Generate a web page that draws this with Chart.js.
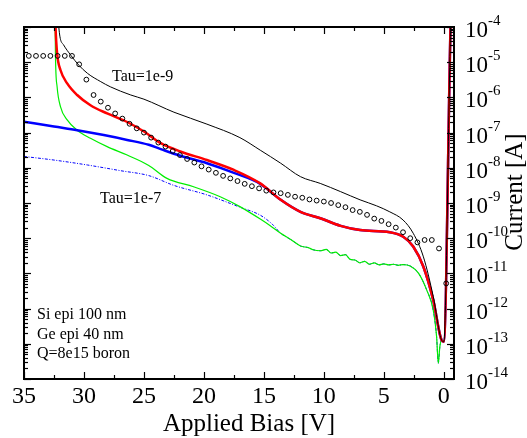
<!DOCTYPE html>
<html>
<head>
<meta charset="utf-8">
<title>Current vs applied bias</title>
<script src="https://cdn.jsdelivr.net/npm/chart.js@4/dist/chart.umd.min.js"></script>
<style>
  html, body { margin: 0; padding: 0; background: #fff; }
  #wrap { width: 527px; height: 438px; }
</style>
</head>
<body>
<div id="wrap"><canvas id="ivChart" width="527" height="438"></canvas></div>
<script>
// axis ticks
const xTickLabels = [35, 30, 25, 20, 15, 10, 5, 0];
const xMinorTicks = [32.5, 27.5, 22.5, 17.5, 12.5, 7.5, 2.5];
const yExponents = [-4, -5, -6, -7, -8, -9, -10, -11, -12, -13, -14];

// measured points (open circles)
const measV = [34.6, 34.0, 33.4, 32.8, 32.2, 31.6, 31.0, 30.4, 29.8, 29.2,
  28.6, 28.0, 27.4, 26.8, 26.2, 25.6, 25.0, 24.4, 23.8, 23.2,
  22.6, 22.0, 21.4, 20.8, 20.2, 19.6, 19.0, 18.4, 17.8, 17.2,
  16.6, 16.0, 15.4, 14.8, 14.2, 13.6, 13.0, 12.4, 11.8, 11.2,
  10.6, 10.0, 9.4, 8.8, 8.2, 7.6, 7.0, 6.4, 5.8, 5.2,
  4.6, 4.0, 3.4, 2.8, 2.2, 1.6, 1.0, 0.4, -0.2];
const measI = [1.51e-5, 1.51e-5, 1.51e-5, 1.51e-5, 1.51e-5, 1.51e-5, 1.51e-5, 8.7e-6, 3.2e-6, 1.17e-6,
  7.6e-7, 5.1e-7, 3.5e-7, 2.5e-7, 1.78e-7, 1.32e-7, 1.0e-7, 7.2e-8, 5.2e-8, 4.0e-8,
  3.0e-8, 2.3e-8, 1.78e-8, 1.41e-8, 1.1e-8, 8.9e-9, 7.2e-9, 5.9e-9, 5.0e-9, 4.2e-9,
  3.5e-9, 3.0e-9, 2.6e-9, 2.24e-9, 2.0e-9, 1.9e-9, 1.7e-9, 1.51e-9, 1.41e-9, 1.26e-9,
  1.17e-9, 1.1e-9, 1.0e-9, 8.7e-10, 7.6e-10, 6.3e-10, 5.6e-10, 4.6e-10, 3.6e-10, 3.1e-10,
  2.5e-10, 2.0e-10, 1.48e-10, 1.0e-10, 7.6e-11, 8.9e-11, 8.9e-11, 5.1e-11, 5.2e-12];

// Tau=1e-9 simulation (thin black)
const blackV = [32.2, 32.1, 31.7, 31.1, 30.44, 29.7, 28.6, 27.8, 26.1, 25.0,
  22.5, 19.75, 17.0, 15.3, 13.6, 11.95, 10.3, 8.6, 6.98, 5.6,
  4.5, 3.4, 2.55, 1.7, 0.88, 0.18, 0.0, -0.56, -0.6];
const blackI = [1e-3, 1e-4, 3.1e-5, 1.58e-5, 8.3e-6, 4.8e-6, 2.8e-6, 2.0e-6, 1.17e-6, 8.9e-7,
  3.8e-7, 1.74e-7, 7.2e-8, 3.16e-8, 1.35e-8, 5.6e-9, 3.6e-9, 2.1e-9, 1.23e-9, 8.3e-10,
  5.6e-10, 3.3e-10, 1.38e-10, 2.95e-11, 2.2e-12, 1.26e-13, 1.15e-13, 1e-4, 3.2e-4];

// red and blue share the low-bias part
const redV = [32.45, 32.37, 32.24, 31.96, 31.4, 30.57, 29.46, 28.07, 26.4, 25.0,
  23.6, 21.97, 19.75, 17.5, 15.3];
const redI = [1e-3, 1e-4, 1.78e-5, 6.0e-6, 2.5e-6, 1.17e-6, 6.0e-7, 3.5e-7, 2.0e-7, 1.07e-7,
  5.0e-8, 2.9e-8, 1.66e-8, 8.7e-9, 3.6e-9];
const blueV = [35, 32.5, 30.57, 28.35, 26.4, 24.6, 23.6, 21.97, 19.75, 17.5, 15.3];
const blueI = [2.04e-7, 1.48e-7, 1.17e-7, 8.5e-8, 6.2e-8, 4.5e-8, 3.4e-8, 2.2e-8, 1.35e-8, 7.2e-9, 3.5e-9];
const tailRV = [13.6, 11.95, 10.3, 8.6, 6.98, 4.5, 3.38, 2.55, 1.7, 0.88, 0.18, 0.0, -0.56, -0.6];
const tailRI = [1.23e-9, 5.6e-10, 3.7e-10, 2.24e-10, 1.7e-10, 1.48e-10, 1.1e-10, 5.8e-11, 1.55e-11, 1.74e-12,
  1.26e-13, 1.15e-13, 1e-4, 3.2e-4];

// green and Tau=1e-7 (dash-dot) share the noisy low-bias part
const greenV = [32.45, 32.4, 32.38, 32.24, 31.96, 31.4, 30.57, 29.46, 28.07, 26.4,
  24.6, 23.08, 20.86, 18.64, 17.0, 15.3, 14.5];
const greenI = [1e-3, 1e-4, 1.78e-5, 2.0e-6, 5.5e-7, 2.3e-7, 1.17e-7, 6.9e-8, 4.0e-8, 2.3e-8,
  1.17e-8, 5.0e-9, 2.9e-9, 1.51e-9, 7.9e-10, 3.5e-10, 2.3e-10];
const dashV = [35, 32.5, 29.7, 26.97, 24.6, 22.5, 19.75, 17.0, 15.3, 14.3];
const dashI = [2.1e-8, 1.66e-8, 1.2e-8, 8.3e-9, 6.0e-9, 3.16e-9, 1.7e-9, 7.6e-10, 4.5e-10, 2.5e-10];
const tailGV = [13.6, 12.7, 11.95, 11.3, 10.9, 10.3, 9.8, 9.4, 9.0, 8.6,
  8.2, 7.8, 7.4, 7.0, 6.6, 6.2, 5.8, 5.4, 5.0, 4.6,
  4.2, 3.8, 3.4, 2.8, 2.1, 1.43, 0.88, 0.6, 0.46, 0.33,
  0.18, 0.0, -0.56, -0.6];
const tailGI = [1.38e-10, 8.9e-11, 6.0e-11, 5.4e-11, 4.7e-11, 4.4e-11, 4.8e-11, 3.8e-11, 4.0e-11, 3.2e-11,
  3.4e-11, 2.5e-11, 2.4e-11, 2.0e-11, 2.2e-11, 1.82e-11, 2.0e-11, 1.74e-11, 1.86e-11, 1.74e-11,
  1.82e-11, 1.7e-11, 1.78e-11, 1.62e-11, 1.0e-11, 3.4e-12, 9.1e-13, 1.58e-13, 2.8e-14, 8.3e-14,
  1.26e-13, 1.15e-13, 1e-4, 3.2e-4];

const pts = (vs, is) => vs.map((v, i) => ({ x: v, y: is[i] }));
const FONT = "'Liberation Serif', 'Times New Roman', serif";

// frame, inward ticks, tick labels, titles and notes
const axesPlugin = {
  id: "axesPlugin",
  afterDraw(chart) {
    const { ctx, chartArea: a } = chart;
    const xs = chart.scales.x, ys = chart.scales.y;
    ctx.save();
    ctx.strokeStyle = "#000";
    ctx.fillStyle = "#000";
    const seg = (x1, y1, x2, y2) => { ctx.beginPath(); ctx.moveTo(x1, y1); ctx.lineTo(x2, y2); ctx.stroke(); };

    ctx.lineWidth = 1.2;
    xTickLabels.forEach((v) => {
      const px = Math.round(xs.getPixelForValue(v)) + 0.5;
      seg(px, a.bottom, px, a.bottom - 7);
      seg(px, a.top, px, a.top + 7);
    });
    xMinorTicks.forEach((v) => {
      const px = Math.round(xs.getPixelForValue(v)) + 0.5;
      seg(px, a.bottom, px, a.bottom - 4);
      seg(px, a.top, px, a.top + 4);
    });
    yExponents.forEach((e) => {
      for (let m = 1; m <= 9; m++) {
        const val = m * Math.pow(10, e);
        if (val > 1.0001e-4) break;
        const py = Math.round(ys.getPixelForValue(val)) + 0.5;
        const len = m === 1 ? 7 : 4;
        seg(a.left, py, a.left + len, py);
        seg(a.right, py, a.right - len, py);
      }
    });

    ctx.lineWidth = 2;
    ctx.strokeRect(a.left, a.top, a.right - a.left, a.bottom - a.top);

    // x tick labels
    ctx.font = "24px " + FONT;
    ctx.textAlign = "center";
    ctx.textBaseline = "middle";
    xTickLabels.forEach((v) => {
      ctx.fillText(String(v), xs.getPixelForValue(v), a.bottom + 18);
    });

    // y tick labels as 10 with superscript exponent
    ctx.textAlign = "left";
    ctx.textBaseline = "alphabetic";
    yExponents.forEach((e) => {
      const py = ys.getPixelForValue(Math.pow(10, e));
      const x0 = a.right + 11;
      ctx.font = "23px " + FONT;
      ctx.fillText("10", x0, py + 10);
      const w = ctx.measureText("10").width;
      ctx.font = "15px " + FONT;
      ctx.fillText(String(e), x0 + w, py - 2);
    });

    // axis titles
    ctx.font = "25px " + FONT;
    ctx.textAlign = "center";
    ctx.fillText("Applied Bias [V]", 249, 431);
    ctx.save();
    ctx.translate(515, 192);
    ctx.rotate(-Math.PI / 2);
    ctx.textBaseline = "middle";
    ctx.fillText("Current [A]", 0, 0);
    ctx.restore();

    // notes
    ctx.font = "16px " + FONT;
    ctx.textAlign = "left";
    ctx.fillText("Tau=1e-9", 112, 81);
    ctx.fillText("Tau=1e-7", 100, 203);
    ctx.fillText("Si epi 100 nm", 37, 319);
    ctx.fillText("Ge epi 40 nm", 37, 339);
    ctx.fillText("Q=8e15 boron", 37, 358);
    ctx.restore();
  },
};

const curve = (data, color, width, dash) => ({
  data,
  borderColor: color,
  borderWidth: width,
  borderDash: dash || [],
  pointRadius: 0,
  fill: false,
  cubicInterpolationMode: "monotone",
});

new Chart(document.getElementById("ivChart"), {
  type: "line",
  data: {
    datasets: [
      {
        data: pts(measV, measI),
        showLine: false,
        pointStyle: "circle",
        pointRadius: 2.4,
        pointBorderWidth: 1,
        pointBorderColor: "#000",
        pointBackgroundColor: "rgba(0,0,0,0)",
      },
      curve(pts(blackV, blackI), "#000000", 1),
      curve(pts(redV.concat(tailRV), redI.concat(tailRI)), "#ff0000", 2.5),
      curve(pts(blueV.concat(tailRV), blueI.concat(tailRI)), "#0000ff", 2.5),
      curve(pts(greenV.concat(tailGV), greenI.concat(tailGI)), "#00ee00", 1.2),
      curve(pts(dashV.concat(tailGV), dashI.concat(tailGI)), "#0000ff", 1, [3, 1.5, 1, 1.5]),
    ],
  },
  options: {
    responsive: false,
    devicePixelRatio: 1,
    animation: false,
    layout: { padding: { left: 24, top: 27, right: 73, bottom: 59 } },
    plugins: { legend: { display: false }, tooltip: { enabled: false } },
    scales: {
      x: { type: "linear", reverse: true, min: -0.85, max: 35, display: false },
      y: { type: "logarithmic", min: 1e-14, max: 1e-4, display: false },
    },
  },
  plugins: [axesPlugin],
});
</script>
</body>
</html>
